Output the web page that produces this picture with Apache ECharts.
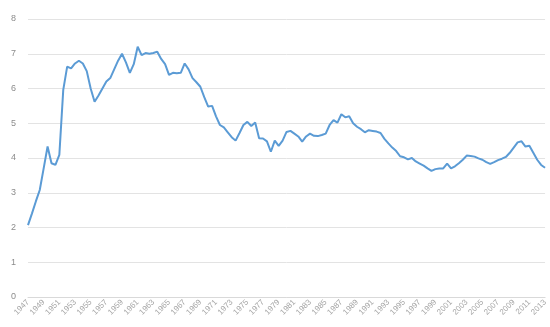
<!DOCTYPE html>
<html>
<head>
<meta charset="utf-8">
<script src="https://cdn.jsdelivr.net/npm/echarts@6/dist/echarts.min.js"></script>
<style>
  html, body { margin: 0; padding: 0; background: #fff; }
  #chart { width: 550px; height: 327px; }
</style>
</head>
<body>
<div id="chart"></div>
<script>
// half-year categories, 1947 H1 .. 2013 H1
var firstYear = 1947;
var lastYear = 2013;
var yTicks = [0, 1, 2, 3, 4, 5, 6, 7, 8];

// values, two per year
var values = [
  2.07, 2.40,   // 1947
  2.75, 3.08,   // 1948
  3.70, 4.33,   // 1949
  3.85, 3.80,   // 1950
  4.09, 5.96,   // 1951
  6.63, 6.58,   // 1952
  6.72, 6.80,   // 1953
  6.72, 6.50,   // 1954
  6.00, 5.62,   // 1955
  5.80, 6.00,   // 1956
  6.20, 6.30,   // 1957
  6.55, 6.80,   // 1958
  7.00, 6.75,   // 1959
  6.45, 6.70,   // 1960
  7.20, 6.96,   // 1961
  7.02, 7.00,   // 1962
  7.02, 7.06,   // 1963
  6.85, 6.70,   // 1964
  6.39, 6.45,   // 1965
  6.44, 6.45,   // 1966
  6.72, 6.55,   // 1967
  6.30, 6.18,   // 1968
  6.05, 5.75,   // 1969
  5.48, 5.50,   // 1970
  5.20, 4.95,   // 1971
  4.88, 4.74,   // 1972
  4.60, 4.50,   // 1973
  4.72, 4.95,   // 1974
  5.04, 4.92,   // 1975
  5.02, 4.57,   // 1976
  4.56, 4.48,   // 1977
  4.18, 4.50,   // 1978
  4.35, 4.50,   // 1979
  4.75, 4.78,   // 1980
  4.70, 4.62,   // 1981
  4.47, 4.62,   // 1982
  4.70, 4.64,   // 1983
  4.63, 4.66,   // 1984
  4.70, 4.95,   // 1985
  5.09, 5.02,   // 1986
  5.26, 5.17,   // 1987
  5.20, 5.00,   // 1988
  4.90, 4.83,   // 1989
  4.74, 4.80,   // 1990
  4.78, 4.76,   // 1991
  4.72, 4.55,   // 1992
  4.42, 4.30,   // 1993
  4.20, 4.05,   // 1994
  4.02, 3.96,   // 1995
  4.00, 3.90,   // 1996
  3.84, 3.78,   // 1997
  3.70, 3.63,   // 1998
  3.68, 3.70,   // 1999
  3.70, 3.84,   // 2000
  3.70, 3.76,   // 2001
  3.85, 3.95,   // 2002
  4.07, 4.06,   // 2003
  4.04, 3.99,   // 2004
  3.95, 3.88,   // 2005
  3.83, 3.88,   // 2006
  3.94, 3.98,   // 2007
  4.03, 4.15,   // 2008
  4.30, 4.45,   // 2009
  4.48, 4.33,   // 2010
  4.35, 4.15,   // 2011
  3.95, 3.80,   // 2012
  3.72          // 2013
];

var categories = [];
for (var y = firstYear; y <= lastYear; y++) {
  categories.push(y + '-1');
  if (y < lastYear) categories.push(y + '-2');
}

var myChart = echarts.init(document.getElementById('chart'));

var option = {
  animation: false,
  backgroundColor: '#fff',
  grid: { left: 28, right: 2, top: 19, bottom: 30 },
  xAxis: {
    type: 'category',
    data: categories,
    boundaryGap: false,
    axisLine: { lineStyle: { color: '#d9d9d9' } },
    axisTick: { show: false },
    axisLabel: {
      interval: function (index) { return index % 4 === 0; },
      formatter: function (v) { return v.split('-')[0]; },
      rotate: 45,
      color: '#a6a6a6',
      fontSize: 8,
      fontFamily: 'Liberation Sans',
      margin: 4
    }
  },
  yAxis: {
    type: 'value',
    min: yTicks[0],
    max: yTicks[yTicks.length - 1],
    interval: 1,
    axisLine: { show: false },
    axisTick: { show: false },
    splitLine: { lineStyle: { color: '#e3e3e3', width: 1 } },
    axisLabel: {
      color: '#8c8c8c',
      fontSize: 9,
      fontFamily: 'Liberation Sans',
      margin: 12
    }
  },
  series: [
    {
      type: 'line',
      data: values,
      symbol: 'none',
      lineStyle: { color: '#5b9bd5', width: 2 }
    }
  ]
};

myChart.setOption(option);
</script>
</body>
</html>
